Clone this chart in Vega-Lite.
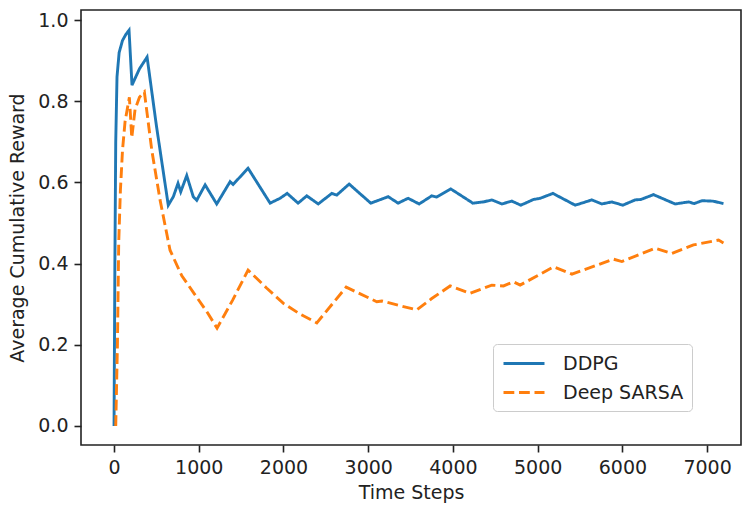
{
  "$schema": "https://vega.github.io/schema/vega-lite/v6.json",
  "autosize": "none",
  "width": 660,
  "height": 435,
  "padding": {"left": 81, "top": 10, "right": 3, "bottom": 63},
  "background": "white",
  "config": {
    "font": "DejaVu Sans",
    "view": {"stroke": "#222", "strokeWidth": 1.6},
    "axis": {
      "domain": false,
      "grid": false,
      "tickColor": "#222",
      "tickWidth": 1.6,
      "tickSize": 7,
      "labelPadding": 6,
      "labelFont": "DejaVu Sans",
      "labelFontSize": 19,
      "labelColor": "#222",
      "titleFont": "DejaVu Sans",
      "titleFontSize": 19,
      "titleFontWeight": "normal",
      "titleColor": "#222"
    }
  },
  "data": {
    "values": [
      {"series": "DDPG", "t": 0, "r": 0},
      {"series": "DDPG", "t": 10, "r": 0.4},
      {"series": "DDPG", "t": 20, "r": 0.7},
      {"series": "DDPG", "t": 35, "r": 0.86},
      {"series": "DDPG", "t": 60, "r": 0.92},
      {"series": "DDPG", "t": 100, "r": 0.95},
      {"series": "DDPG", "t": 140, "r": 0.965},
      {"series": "DDPG", "t": 177, "r": 0.975},
      {"series": "DDPG", "t": 212, "r": 0.84},
      {"series": "DDPG", "t": 300, "r": 0.88},
      {"series": "DDPG", "t": 390, "r": 0.909},
      {"series": "DDPG", "t": 500, "r": 0.74},
      {"series": "DDPG", "t": 640, "r": 0.544},
      {"series": "DDPG", "t": 700, "r": 0.565},
      {"series": "DDPG", "t": 755, "r": 0.598},
      {"series": "DDPG", "t": 787, "r": 0.577},
      {"series": "DDPG", "t": 858, "r": 0.617},
      {"series": "DDPG", "t": 935, "r": 0.565},
      {"series": "DDPG", "t": 976, "r": 0.556},
      {"series": "DDPG", "t": 1075, "r": 0.594},
      {"series": "DDPG", "t": 1212, "r": 0.547},
      {"series": "DDPG", "t": 1370, "r": 0.602},
      {"series": "DDPG", "t": 1405, "r": 0.595},
      {"series": "DDPG", "t": 1582, "r": 0.635},
      {"series": "DDPG", "t": 1842, "r": 0.549},
      {"series": "DDPG", "t": 1960, "r": 0.561},
      {"series": "DDPG", "t": 2043, "r": 0.573},
      {"series": "DDPG", "t": 2172, "r": 0.549},
      {"series": "DDPG", "t": 2275, "r": 0.567},
      {"series": "DDPG", "t": 2410, "r": 0.547},
      {"series": "DDPG", "t": 2570, "r": 0.573},
      {"series": "DDPG", "t": 2629, "r": 0.569},
      {"series": "DDPG", "t": 2775, "r": 0.596},
      {"series": "DDPG", "t": 3030, "r": 0.549},
      {"series": "DDPG", "t": 3160, "r": 0.559},
      {"series": "DDPG", "t": 3235, "r": 0.565},
      {"series": "DDPG", "t": 3353, "r": 0.549},
      {"series": "DDPG", "t": 3471, "r": 0.561},
      {"series": "DDPG", "t": 3601, "r": 0.547},
      {"series": "DDPG", "t": 3750, "r": 0.567},
      {"series": "DDPG", "t": 3809, "r": 0.564},
      {"series": "DDPG", "t": 3975, "r": 0.584},
      {"series": "DDPG", "t": 4235, "r": 0.549},
      {"series": "DDPG", "t": 4360, "r": 0.552},
      {"series": "DDPG", "t": 4459, "r": 0.557},
      {"series": "DDPG", "t": 4577, "r": 0.547},
      {"series": "DDPG", "t": 4695, "r": 0.554},
      {"series": "DDPG", "t": 4801, "r": 0.544},
      {"series": "DDPG", "t": 4951, "r": 0.558},
      {"series": "DDPG", "t": 5030, "r": 0.561},
      {"series": "DDPG", "t": 5180, "r": 0.573},
      {"series": "DDPG", "t": 5443, "r": 0.544},
      {"series": "DDPG", "t": 5640, "r": 0.557},
      {"series": "DDPG", "t": 5758, "r": 0.547},
      {"series": "DDPG", "t": 5876, "r": 0.552},
      {"series": "DDPG", "t": 6005, "r": 0.544},
      {"series": "DDPG", "t": 6151, "r": 0.557},
      {"series": "DDPG", "t": 6218, "r": 0.558},
      {"series": "DDPG", "t": 6367, "r": 0.57},
      {"series": "DDPG", "t": 6623, "r": 0.547},
      {"series": "DDPG", "t": 6781, "r": 0.552},
      {"series": "DDPG", "t": 6848, "r": 0.548},
      {"series": "DDPG", "t": 6939, "r": 0.555},
      {"series": "DDPG", "t": 7069, "r": 0.554},
      {"series": "DDPG", "t": 7193, "r": 0.548},
      {"series": "Deep SARSA", "t": 20, "r": 0},
      {"series": "Deep SARSA", "t": 40, "r": 0.2},
      {"series": "Deep SARSA", "t": 55, "r": 0.45},
      {"series": "Deep SARSA", "t": 75, "r": 0.58},
      {"series": "Deep SARSA", "t": 100, "r": 0.68},
      {"series": "Deep SARSA", "t": 130, "r": 0.75},
      {"series": "Deep SARSA", "t": 181, "r": 0.81},
      {"series": "Deep SARSA", "t": 209, "r": 0.71},
      {"series": "Deep SARSA", "t": 248, "r": 0.78},
      {"series": "Deep SARSA", "t": 300, "r": 0.81},
      {"series": "Deep SARSA", "t": 358, "r": 0.823},
      {"series": "Deep SARSA", "t": 445, "r": 0.68},
      {"series": "Deep SARSA", "t": 543, "r": 0.557},
      {"series": "Deep SARSA", "t": 661, "r": 0.433},
      {"series": "Deep SARSA", "t": 800, "r": 0.37},
      {"series": "Deep SARSA", "t": 950, "r": 0.325},
      {"series": "Deep SARSA", "t": 1100, "r": 0.28},
      {"series": "Deep SARSA", "t": 1216, "r": 0.241},
      {"series": "Deep SARSA", "t": 1400, "r": 0.31},
      {"series": "Deep SARSA", "t": 1582, "r": 0.384},
      {"series": "Deep SARSA", "t": 1800, "r": 0.34},
      {"series": "Deep SARSA", "t": 1999, "r": 0.302},
      {"series": "Deep SARSA", "t": 2200, "r": 0.275},
      {"series": "Deep SARSA", "t": 2393, "r": 0.254},
      {"series": "Deep SARSA", "t": 2740, "r": 0.342},
      {"series": "Deep SARSA", "t": 3101, "r": 0.306},
      {"series": "Deep SARSA", "t": 3160, "r": 0.308},
      {"series": "Deep SARSA", "t": 3416, "r": 0.294},
      {"series": "Deep SARSA", "t": 3574, "r": 0.286},
      {"series": "Deep SARSA", "t": 3750, "r": 0.314},
      {"series": "Deep SARSA", "t": 3967, "r": 0.345},
      {"series": "Deep SARSA", "t": 4203, "r": 0.327},
      {"series": "Deep SARSA", "t": 4459, "r": 0.347},
      {"series": "Deep SARSA", "t": 4597, "r": 0.345},
      {"series": "Deep SARSA", "t": 4715, "r": 0.355},
      {"series": "Deep SARSA", "t": 4793, "r": 0.347},
      {"series": "Deep SARSA", "t": 5187, "r": 0.392},
      {"series": "Deep SARSA", "t": 5404, "r": 0.374},
      {"series": "Deep SARSA", "t": 5895, "r": 0.411},
      {"series": "Deep SARSA", "t": 5994, "r": 0.405},
      {"series": "Deep SARSA", "t": 6387, "r": 0.438},
      {"series": "Deep SARSA", "t": 6584, "r": 0.425},
      {"series": "Deep SARSA", "t": 6839, "r": 0.446},
      {"series": "Deep SARSA", "t": 7135, "r": 0.458},
      {"series": "Deep SARSA", "t": 7193, "r": 0.451}
    ]
  },
  "mark": {"type": "line", "strokeWidth": 2.9, "clip": true},
  "encoding": {
    "x": {
      "field": "t",
      "type": "quantitative",
      "scale": {"domain": [-390, 7400], "nice": false, "zero": false},
      "axis": {"values": [0, 1000, 2000, 3000, 4000, 5000, 6000, 7000], "format": "d", "title": "Time Steps", "titlePadding": 6}
    },
    "y": {
      "field": "r",
      "type": "quantitative",
      "scale": {"domain": [-0.047, 1.025], "nice": false, "zero": false},
      "axis": {"values": [0, 0.2, 0.4, 0.6, 0.8, 1.0], "format": ".1f", "title": "Average Cumulative Reward", "titlePadding": 10}
    },
    "color": {
      "field": "series",
      "type": "nominal",
      "scale": {"domain": ["DDPG", "Deep SARSA"], "range": ["#1f77b4", "#ff7f0e"]},
      "legend": {
        "title": null,
        "orient": "none",
        "legendX": 412,
        "legendY": 334,
        "fillColor": "white",
        "strokeColor": "#cccccc",
        "cornerRadius": 4,
        "padding": 8,
        "rowPadding": 7,
        "symbolType": "M-0.9,0H3.2",
        "symbolSize": 400,
        "symbolStrokeWidth": 2.9,
        "symbolFillColor": "transparent",
        "labelFont": "DejaVu Sans",
        "labelFontSize": 19,
        "labelColor": "#222",
        "labelOffset": 39
      }
    },
    "strokeDash": {
      "field": "series",
      "type": "nominal",
      "scale": {"domain": ["DDPG", "Deep SARSA"], "range": [[1, 0], [10.8, 4.7]]},
      "legend": null
    }
  }
}
